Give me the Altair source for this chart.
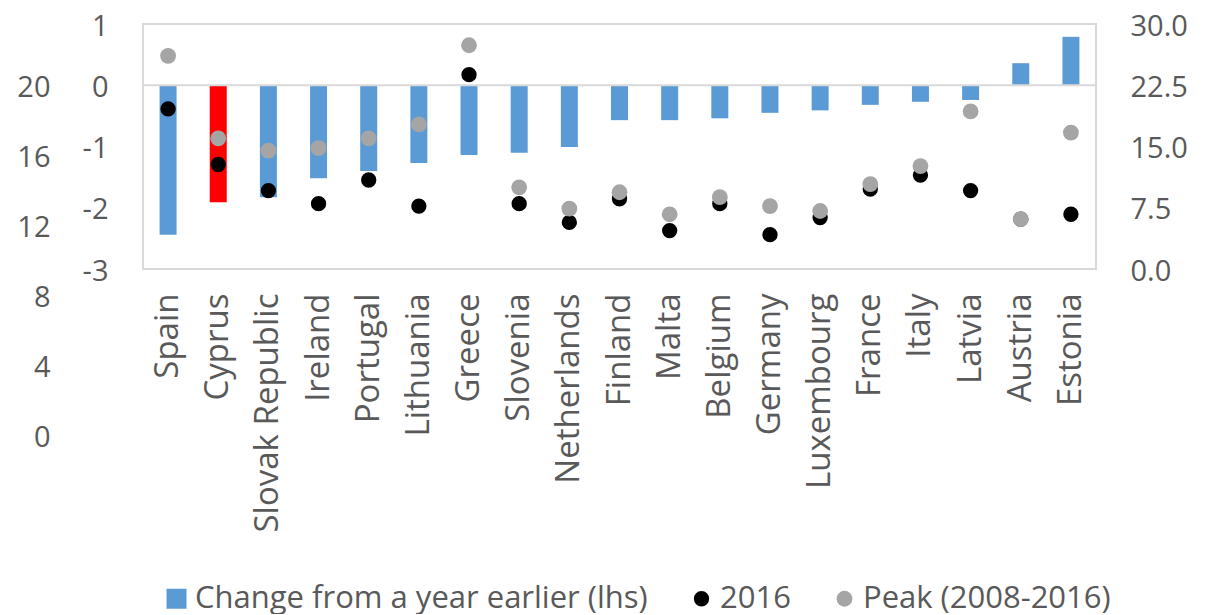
import altair as alt
import pandas as pd

countries = ["Spain", "Cyprus", "Slovak Republic", "Ireland", "Portugal", "Lithuania",
             "Greece", "Slovenia", "Netherlands", "Finland", "Malta", "Belgium",
             "Germany", "Luxembourg", "France", "Italy", "Latvia", "Austria", "Estonia"]
change = [-2.44, -1.91, -1.83, -1.52, -1.40, -1.27, -1.14, -1.10, -1.01, -0.57,
          -0.57, -0.54, -0.45, -0.41, -0.32, -0.27, -0.24, 0.36, 0.79]
v2016 = [19.6, 12.8, 9.6, 8.0, 10.9, 7.7, 23.8, 8.0, 5.7, 8.6,
         4.7, 8.0, 4.2, 6.3, 9.8, 11.5, 9.6, 6.1, 6.7]
peak = [26.1, 16.0, 14.5, 14.8, 16.0, 17.7, 27.4, 10.0, 7.4, 9.4,
        6.7, 8.8, 7.7, 7.1, 10.4, 12.6, 19.3, 6.1, 16.7]

series_names = ["Change from a year earlier (lhs)", "2016", "Peak (2008-2016)"]
series_colors = ["#5B9BD5", "#000000", "#A5A5A5"]
series_shapes = ["square", "circle", "circle"]
series_sizes = [400, 235, 250]

lhs_ticks = [-3, -2, -1, 0, 1]
rhs_ticks = [0, 7.5, 15, 22.5, 30]
stray_ticks = [0, 4, 8, 12, 16, 20]
zero_line = [0]

FONT = "Open Sans"
TXT = "#595959"
FRAME = "#D9D9D9"

bars_df = pd.DataFrame({"country": countries, "change": change, "series": series_names[0]})
pts_df = pd.concat([
    pd.DataFrame({"country": countries, "value": v2016, "series": series_names[1]}),
    pd.DataFrame({"country": countries, "value": peak, "series": series_names[2]}),
], ignore_index=True)
zero_df = pd.DataFrame({"y": zero_line})
stray_df = pd.DataFrame({"t": stray_ticks})

legend = alt.Legend(
    orient="none", legendX=18, legendY=559, direction="horizontal", title=None,
    labelFont=FONT, labelFontSize=31, labelColor=TXT, labelLimit=800,
    columnPadding=38, labelOffset=3, padding=0, symbolStrokeWidth=0,
)
color_scale = alt.Scale(domain=series_names, range=series_colors)
shape_scale = alt.Scale(domain=series_names, range=series_shapes)
size_scale = alt.Scale(type="ordinal", domain=series_names, range=series_sizes)

x_enc = alt.X(
    "country:N", sort=countries, title=None,
    scale=alt.Scale(paddingInner=0, paddingOuter=0),
    axis=alt.Axis(labelAngle=270, labelFont=FONT, labelFontSize=33, labelColor=TXT,
                  ticks=False, domain=False, labelPadding=24, grid=False, labelLimit=600),
)

lhs_scale = alt.Scale(domain=[-3, 1], nice=False, zero=False)

def yaxis(orient, values, pad, offset=0, expr="datum.value"):
    return alt.Axis(orient=orient, values=values, labelExpr=expr, labelFont=FONT,
                    labelFontSize=29, labelColor=TXT, ticks=False, tickSize=0,
                    domain=False, grid=False, labelPadding=pad, offset=offset,
                    labelOffset=2)

bars = alt.Chart(bars_df).mark_bar(size=17).encode(
    x=x_enc,
    y=alt.Y("change:Q", scale=lhs_scale, title=None, axis=yaxis("left", lhs_ticks, 35)),
    color=alt.condition(alt.datum.country == "Cyprus", alt.value("#FF0000"),
                        alt.Color("series:N", scale=color_scale, legend=legend)),
)
zero = alt.Chart(zero_df).mark_rule(color=FRAME, strokeWidth=2).encode(
    y=alt.Y("y:Q", scale=lhs_scale)
)
left_group = alt.layer(bars, zero)

points = alt.Chart(pts_df).mark_point(filled=True, opacity=1, strokeWidth=0).encode(
    x=alt.X("country:N", sort=countries),
    y=alt.Y("value:Q", scale=alt.Scale(domain=[0, 30], nice=False), title=None,
            axis=yaxis("right", rhs_ticks, 34, expr="format(datum.value, '.1f')")),
    color=alt.Color("series:N", scale=color_scale, legend=legend),
    shape=alt.Shape("series:N", scale=shape_scale, legend=legend),
    size=alt.Size("series:N", scale=size_scale, legend=legend),
)

stray = alt.Chart(stray_df).mark_point(opacity=0).encode(
    y=alt.Y("t:Q", scale=alt.Scale(domain=[0, 20], range=[411, 61], nice=False), title=None,
            axis=yaxis("left", stray_ticks, 0, offset=93)),
)

chart = alt.layer(left_group, points, stray).resolve_scale(
    y="independent"
).properties(
    width=953, height=245,
    padding={"left": 135, "top": 16, "right": 118, "bottom": 345},
    autosize="none",
).configure_view(stroke=FRAME, strokeWidth=2)

chart.save("out.html", embed_options={"renderer": "svg", "actions": False})
